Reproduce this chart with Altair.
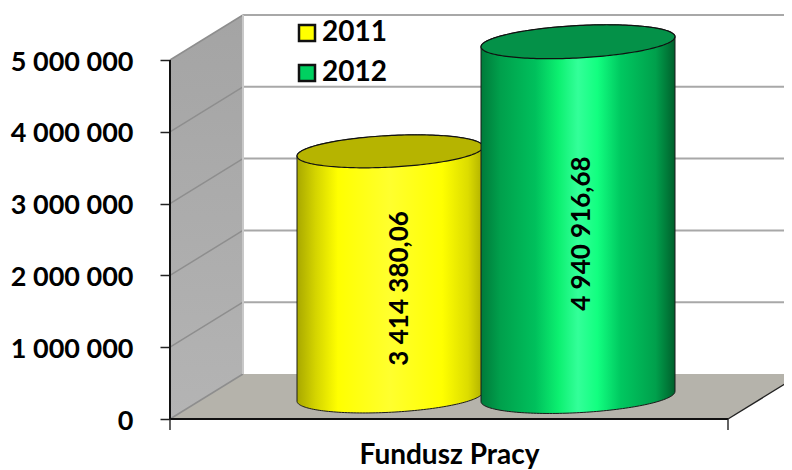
import numpy as np
import pandas as pd
import altair as alt

# --- chart values
series = ["2011", "2012"]
values = [3414380.06, 4940916.68]
labels = ["3 414 380,06", "4 940 916,68"]
category = "Fundusz Pracy"
ticks = [0, 1000000, 2000000, 3000000, 4000000, 5000000]

# --- scale set-up (x: 1 = width of the floor; y: value units)
PX_X = 558.0            # pixels per x unit
PX_Y = 71.8 / 1e6       # pixels per value unit
DEPTH_X = 73 / PX_X     # 3-D depth shift
DEPTH_Y = 45 / PX_Y
FONT = "Lato"
x_scale = alt.Scale(domain=[0, 614 / PX_X], nice=False, zero=False)
y_scale = alt.Scale(domain=[-11 / PX_Y, 411 / PX_Y], nice=False, zero=False)
X = lambda f="x": alt.X(f, type="quantitative", scale=x_scale, title=category)
Y = lambda f="y": alt.Y(f, type="quantitative", scale=y_scale, title=None)


def vgrad(a, b):
    return alt.LinearGradient(gradient="linear", stops=[alt.GradientStop(offset=0, color=a), alt.GradientStop(offset=1, color=b)],
                              x1=0, x2=0, y1=0, y2=1)


def hgrad(stops):
    return alt.LinearGradient(gradient="linear", stops=[alt.GradientStop(offset=o, color=c) for o, c in stops],
                              x1=0, x2=1, y1=0, y2=0)


# axes and legend carried by the first layer
key = pd.DataFrame({"x": [0.5, 0.5], "y": [0, 0], "s": series})
base_l = alt.Chart(key).mark_square(size=0).encode(
    x=alt.X("x:Q", scale=x_scale, title=category, axis=alt.Axis(
        domain=False, ticks=False, labels=False, grid=False,
        titleFont=FONT, titleFontWeight="bold", titleFontSize=28, titleColor="black",
        titleX=279, titleY=33, titleBaseline="alphabetic")),
    y=alt.Y("y:Q", scale=y_scale, title=None, axis=alt.Axis(
        values=ticks, domain=False, grid=False, tickSize=10, tickColor="#222222", tickWidth=1.5,
        labelPadding=27, labelFont=FONT, labelFontWeight="bold", labelFontSize=27, labelColor="black",
        labelOffset=2,
        labelExpr="replace(format(datum.value, ','), /,/g, ' ')")),
    color=alt.Color("s:N", scale=alt.Scale(domain=series, range=["#ffff00", "#00d060"]), legend=alt.Legend(
        title=None, orient="none", legendX=123, legendY=11, symbolType="square", symbolSize=256,
        symbolStrokeColor="#111111", symbolStrokeWidth=2.5, symbolOpacity=1,
        labelFont=FONT, labelFontWeight="bold", labelFontSize=28, labelColor="black", labelOffset=1, rowPadding=12)),
)

# walls and floor
wall = pd.DataFrame({"x": [0, DEPTH_X], "y": [ticks[-1], ticks[-1] + DEPTH_Y], "y2": [0, DEPTH_Y]})
wall_l = alt.Chart(wall).mark_area(color=vgrad("#a4a4a4", "#b4b4b4")).encode(x=X(), y=Y(), y2="y2")

floor = pd.DataFrame({"y": [0, DEPTH_Y], "x": [0, DEPTH_X], "x2": [1, 1 + DEPTH_X]})
floor_l = alt.Chart(floor).mark_area(orient="horizontal", color="#b5b3ab").encode(x=X(), x2="x2", y=Y())

# grid lines: along the back wall, and slanted over the side wall
back_rows, side_rows = [], []
for v in ticks:
    back_rows += [{"id": v, "x": DEPTH_X, "y": v + DEPTH_Y}, {"id": v, "x": 1 + DEPTH_X, "y": v + DEPTH_Y}]
    side_rows += [{"id": v, "x": 0, "y": v}, {"id": v, "x": DEPTH_X, "y": v + DEPTH_Y}]
back_rows = [r for r in back_rows if r["id"] != 0]
back_l = alt.Chart(pd.DataFrame(back_rows)).mark_line(color="#a8a8a8", strokeWidth=2).encode(x=X(), y=Y(), detail="id:N")
side_l = alt.Chart(pd.DataFrame(side_rows)).mark_line(color="#8e8e8e", strokeWidth=1.5).encode(x=X(), y=Y(), detail="id:N")
corner = pd.DataFrame({"x": [DEPTH_X, DEPTH_X], "y": [DEPTH_Y, ticks[-1] + DEPTH_Y]})
corner_l = alt.Chart(corner).mark_line(color="#c8c8c8", strokeWidth=2).encode(x=X(), y=Y())

# axis lines
ax_rows = [
    {"id": "v", "x": 0, "y": 0}, {"id": "v", "x": 0, "y": ticks[-1]},
    {"id": "h", "x": 0, "y": 0}, {"id": "h", "x": 1, "y": 0},
]
axis_l = alt.Chart(pd.DataFrame(ax_rows)).mark_line(color="#111111", strokeWidth=2).encode(x=X(), y=Y(), detail="id:N")
thin_rows = [
    {"id": "t0", "x": 0, "y": 0}, {"id": "t0", "x": 0, "y": -11 / PX_Y},
    {"id": "t1", "x": 1, "y": 0}, {"id": "t1", "x": 1, "y": -11 / PX_Y},
    {"id": "e", "x": 1, "y": 0}, {"id": "e", "x": 1 + DEPTH_X, "y": DEPTH_Y},
]
thin_l = alt.Chart(pd.DataFrame(thin_rows)).mark_line(color="#222222", strokeWidth=1.4).encode(x=X(), y=Y(), detail="id:N")


# cylinders
def cylinder(value, cx, a, b, tilt, side, top):
    t = np.linspace(np.pi, 0, 90)
    dx = a * np.cos(t)
    dy = b * np.sin(t)
    base = DEPTH_Y / 2
    mid = tilt * dx
    xs = (cx - 170 + dx) / PX_X
    body = pd.DataFrame({"x": xs, "y": base + value + (mid + dy) / PX_Y, "y2": base + (mid - dy) / PX_Y})
    cap = pd.DataFrame({"x": xs, "y": base + value + (mid + dy) / PX_Y, "y2": base + value + (mid - dy) / PX_Y})
    return [
        alt.Chart(body).mark_area(color=hgrad(side), stroke="#1a1a1a", strokeWidth=1).encode(x=X(), y=Y(), y2="y2"),
        alt.Chart(cap).mark_area(color=top, stroke="#111111", strokeWidth=1.2).encode(x=X(), y=Y(), y2="y2"),
    ]


yellow_side = [(0, "#a8a800"), (0.1, "#d4d400"), (0.22, "#ffff00"), (0.5, "#ffff2e"), (0.78, "#ffff00"),
               (0.92, "#dcdc00"), (1, "#b0b000")]
green_side = [(0, "#007a3a"), (0.1, "#00a04c"), (0.28, "#00c05c"), (0.4, "#0cf070"), (0.5, "#33ff99"),
              (0.6, "#12ff80"), (0.72, "#00c860"), (0.9, "#00a04c"), (1, "#00602c")]
c1 = cylinder(values[0], 390, 93, 15.8, 0.05, yellow_side, "#b6b400")
c2 = cylinder(values[1], 578, 97, 16.2, 0.052, green_side, "#049148")

# value labels
lab = pd.DataFrame({"x": [(400 - 170) / PX_X, (582 - 170) / PX_X],
                    "y": [v / 2 + 8 / PX_Y for v in values], "t": labels})
lab_l = alt.Chart(lab).mark_text(font=FONT, fontWeight="bold", fontSize=26, angle=270, baseline="middle",
                                 align="center", color="black").encode(x=X(), y=Y(), text="t:N")

chart = alt.layer(
    base_l, wall_l, floor_l, side_l, back_l, corner_l, axis_l, thin_l, *c1, *c2, lab_l
).resolve_scale(x="shared", y="shared").properties(
    width=614, height=422,
    autosize=alt.AutoSizeParams(type="none"),
    padding={"left": 162, "top": 0, "right": 0, "bottom": 40},
    background="white",
).configure_view(stroke=None)

chart.save("out.html", embed_options={"renderer": "svg", "actions": False})
